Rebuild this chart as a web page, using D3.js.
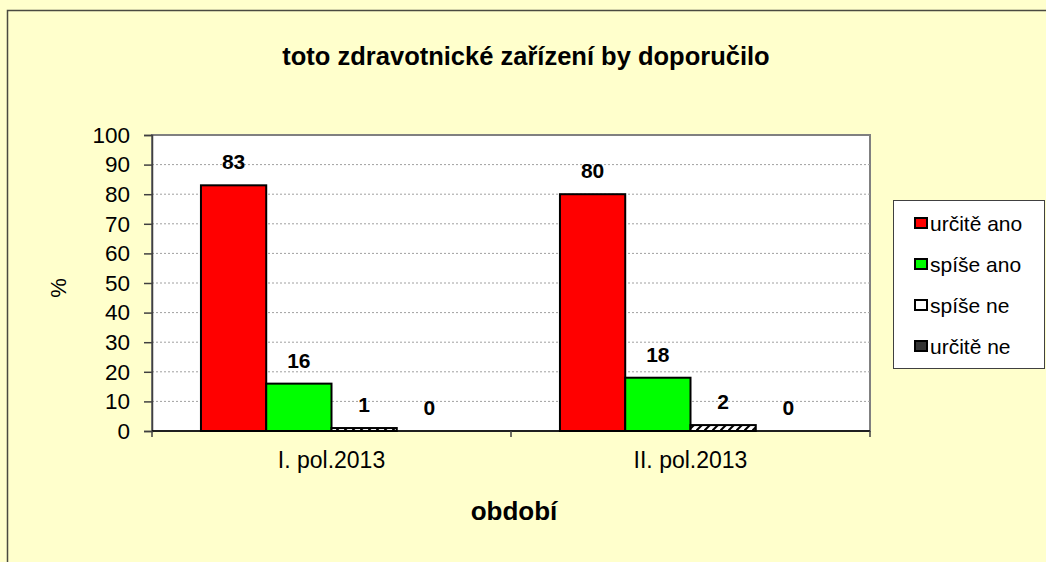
<!DOCTYPE html>
<html>
<head>
<meta charset="utf-8">
<script src="https://cdn.jsdelivr.net/npm/d3@7"></script>
<style>
  html, body { margin: 0; padding: 0; background: #FFFFCC; }
  svg { display: block; font-family: "Liberation Sans", Arial, sans-serif; }
</style>
</head>
<body>
<div id="chart"></div>
<script>
// data
var categories = ["I. pol.2013", "II. pol.2013"];
var seriesNames = ["určitě ano", "spíše ano", "spíše ne", "určitě ne"];
var urciteAno = [83, 80];
var spiseAno = [16, 18];
var spiseNe = [1, 2];
var urciteNe = [0, 0];
var yTicks = [0, 10, 20, 30, 40, 50, 60, 70, 80, 90, 100];
var titleText = "toto zdravotnické zařízení by doporučilo";
var xTitle = "období";
var yTitle = "%";

var seriesValues = [urciteAno, spiseAno, spiseNe, urciteNe];
var seriesFill = ["#FF0000", "#00FF00", "url(#hatch)", "#333333"];

var containerwidth = 1046, containerheight = 562;
var margin = { top: 135, right: 176, bottom: 131, left: 152 };
var width = containerwidth - margin.left - margin.right;
var height = containerheight - margin.top - margin.bottom;

var svg = d3.select("#chart").append("svg")
  .attr("width", containerwidth)
  .attr("height", containerheight);

// hatch pattern for "spíše ne"
var pattern = svg.append("defs").append("pattern")
  .attr("id", "hatch")
  .attr("patternUnits", "userSpaceOnUse")
  .attr("width", 8).attr("height", 8);
pattern.append("rect").attr("width", 8).attr("height", 8).attr("fill", "#fff");
pattern.append("path")
  .attr("d", "M-2,10 L10,-2")
  .attr("stroke", "#000").attr("stroke-width", 2);

// background + outer chart frame (only top/left edges visible)
svg.append("rect").attr("width", containerwidth).attr("height", containerheight).attr("fill", "#FFFFCC");
svg.append("path")
  .attr("d", "M7.5," + containerheight + " V10.5 H" + containerwidth)
  .attr("fill", "none").attr("stroke", "#4a4a40").attr("stroke-width", 1.5);

// title
svg.append("text")
  .attr("x", 526).attr("y", 65)
  .attr("text-anchor", "middle")
  .style("font-weight", "bold").style("font-size", "25.5px")
  .text(titleText);

var g = svg.append("g")
  .attr("transform", "translate(" + margin.left + "," + margin.top + ")");

// scales (gap width 150% like the original)
var x0Scale = d3.scaleBand().domain(categories).range([0, width]);
var x1Scale = d3.scaleBand().domain(seriesNames)
  .range([0, x0Scale.bandwidth()])
  .paddingOuter(0.75).paddingInner(0);
var yScale = d3.scaleLinear().domain([0, 100]).range([height, 0]);

// plot area
g.append("rect")
  .attr("width", width).attr("height", height)
  .attr("fill", "#fff")
  .attr("stroke", "#808080").attr("stroke-width", 2);

// gridlines
g.append("g")
  .selectAll("line")
  .data(yTicks.slice(1, -1))
  .enter().append("line")
  .attr("x1", 0).attr("x2", width)
  .attr("y1", function(d) { return yScale(d); })
  .attr("y2", function(d) { return yScale(d); })
  .attr("stroke", "#a0a0a0").attr("stroke-width", 1)
  .attr("stroke-dasharray", "2,2");

// y axis
var yAxis = d3.axisLeft(yScale).tickValues(yTicks).tickSize(8).tickPadding(14);
var yAxisG = g.append("g").call(yAxis);
yAxisG.select(".domain").attr("stroke", "#404040").attr("stroke-width", 1.5);
yAxisG.selectAll(".tick line").attr("stroke", "#404040").attr("stroke-width", 1.5);
yAxisG.selectAll(".tick text")
  .style("font-size", "22.5px")
  .style("font-family", "Liberation Sans, Arial, sans-serif")
  .attr("fill", "#000");

// x axis with ticks between categories
var xAxisG = g.append("g").attr("transform", "translate(0," + height + ")");
xAxisG.append("line").attr("x1", 0).attr("x2", width)
  .attr("stroke", "#000").attr("stroke-width", 1.5);
xAxisG.selectAll("line.tick")
  .data([0].concat(categories.map(function(c) { return x0Scale(c) + x0Scale.bandwidth(); })))
  .enter().append("line")
  .attr("class", "tick")
  .attr("x1", function(d) { return d; }).attr("x2", function(d) { return d; })
  .attr("y1", 0).attr("y2", 6)
  .attr("stroke", "#404040").attr("stroke-width", 1.5);
xAxisG.selectAll("text.cat")
  .data(categories)
  .enter().append("text")
  .attr("class", "cat")
  .attr("x", function(d) { return x0Scale(d) + x0Scale.bandwidth() / 2; })
  .attr("y", 37)
  .attr("text-anchor", "middle")
  .style("font-size", "23px")
  .text(function(d) { return d; });

// axis titles
svg.append("text")
  .attr("x", margin.left + width / 2 + 3).attr("y", 520)
  .attr("text-anchor", "middle")
  .style("font-weight", "bold").style("font-size", "26px")
  .text(xTitle);
svg.append("text")
  .attr("transform", "translate(66,288) rotate(-90)")
  .attr("text-anchor", "middle")
  .style("font-size", "22px")
  .text(yTitle);

// bars
var flat = [];
seriesValues.forEach(function(vals, si) {
  vals.forEach(function(v, ci) {
    flat.push({ key: seriesNames[si], cat: categories[ci], y: v, fill: seriesFill[si] });
  });
});

var bars = g.append("g").attr("class", "data-points-groupedbar");
bars.selectAll("rect")
  .data(flat)
  .enter().append("rect")
  .attr("x", function(d) { return x0Scale(d.cat) + x1Scale(d.key); })
  .attr("y", function(d) { return yScale(d.y); })
  .attr("width", x1Scale.bandwidth())
  .attr("height", function(d) { return height - yScale(d.y); })
  .attr("fill", function(d) { return d.fill; })
  .attr("stroke", "#000").attr("stroke-width", 2);

bars.selectAll("text")
  .data(flat)
  .enter().append("text")
  .attr("x", function(d) { return x0Scale(d.cat) + x1Scale(d.key) + x1Scale.bandwidth() / 2; })
  .attr("y", function(d) { return yScale(d.y) - 16; })
  .attr("text-anchor", "middle")
  .style("font-weight", "bold").style("font-size", "21px")
  .text(function(d) { return d.y; });

// legend
var legend = svg.append("g").attr("transform", "translate(893,200)");
legend.append("rect")
  .attr("x", 0.5).attr("y", 0.5)
  .attr("width", 151).attr("height", 168)
  .attr("fill", "#fff").attr("stroke", "#404040").attr("stroke-width", 1);
var legendItem = legend.selectAll("g.item")
  .data(seriesNames)
  .enter().append("g")
  .attr("class", "item")
  .attr("transform", function(d, i) { return "translate(0," + (23 + i * 41) + ")"; });
legendItem.append("rect")
  .attr("x", 22).attr("y", -5)
  .attr("width", 12).attr("height", 10)
  .attr("fill", function(d, i) { return i == 2 ? "#fff" : seriesFill[i]; })
  .attr("stroke", "#000").attr("stroke-width", 2);
legendItem.append("text")
  .attr("x", 37).attr("y", 8)
  .style("font-size", "21px")
  .text(function(d) { return d; });
</script>
</body>
</html>
